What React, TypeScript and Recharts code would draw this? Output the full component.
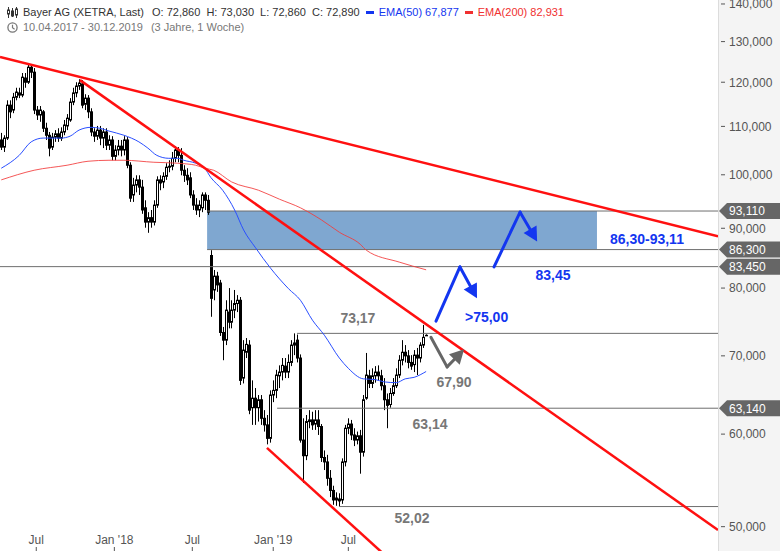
import React from "react";
import {
  ComposedChart,
  Bar,
  Line,
  XAxis,
  YAxis,
  ReferenceLine,
  ReferenceArea,
  ReferenceDot,
} from "recharts";

// Bayer AG weekly candles, 10.04.2017 - 30.12.2019 (week index 0..142)
const OPEN = [
  107.1, 105.6, 107.5, 114.7, 113.6, 116.5, 117.5, 117.0, 121.0, 120.0,
  123.6, 122.4, 113.6, 112.5, 113.2, 109.6, 108.1, 105.6, 107.7, 108.4,
  107.5, 108.8, 110.1, 111.4, 115.4, 117.5, 119.1, 119.6, 114.9, 116.3,
  113.2, 108.8, 107.9, 109.2, 107.5, 108.8, 106.0, 107.1, 103.7, 105.0,
  105.8, 105.0, 107.1, 101.9, 96.1, 98.0, 99.0, 97.6, 93.7, 91.1,
  91.9, 91.1, 94.2, 99.0, 98.6, 99.7, 101.5, 101.7, 103.3, 105.0,
  103.9, 100.9, 99.9, 99.4, 96.1, 94.2, 93.3, 93.7, 96.1, 95.1,
  85.3, 79.7, 81.9, 80.8, 73.3, 72.2, 76.3, 74.8, 76.6, 77.6,
  78.1, 67.0, 70.5, 71.5, 63.2, 64.4, 63.2, 64.2, 61.9, 61.1,
  59.5, 64.8, 65.4, 67.3, 67.8, 68.6, 67.8, 69.1, 71.5, 72.2,
  69.7, 59.3, 57.5, 61.5, 61.7, 61.2, 61.7, 60.9, 57.3, 56.8,
  55.0, 53.7, 52.7, 52.8, 52.7, 56.8, 60.7, 61.2, 59.9, 59.3,
  59.8, 57.9, 64.4, 67.3, 66.3, 67.3, 67.8, 67.3, 66.0, 64.2,
  63.6, 65.0, 66.0, 67.4, 69.4, 70.5, 70.0, 69.1, 68.8, 70.1,
  69.7, 71.5, 72.86,
];
const HIGH = [
  108.6, 108.1, 115.8, 115.8, 117.5, 118.7, 118.7, 122.2, 122.2, 124.3,
  124.3, 123.4, 114.5, 114.5, 113.6, 110.8, 108.8, 108.6, 109.2, 109.6,
  109.8, 111.4, 112.7, 116.3, 118.7, 120.0, 120.7, 120.5, 117.2, 117.0,
  114.0, 109.6, 110.1, 110.1, 109.6, 109.6, 108.1, 107.9, 106.0, 107.1,
  107.1, 107.9, 107.7, 102.5, 99.4, 99.9, 99.9, 99.0, 95.1, 92.9,
  93.3, 95.1, 99.7, 99.9, 100.5, 102.3, 102.9, 104.6, 105.8, 105.6,
  105.4, 101.9, 101.3, 100.5, 97.0, 95.5, 95.1, 96.6, 96.6, 96.1,
  86.2, 82.9, 82.6, 81.3, 74.1, 78.1, 80.0, 78.1, 79.7, 78.9,
  78.6, 72.2, 72.5, 72.2, 66.7, 65.7, 64.8, 64.8, 62.9, 62.3,
  65.4, 66.7, 68.1, 68.7, 69.7, 69.7, 70.2, 72.2, 73.17, 73.0,
  70.2, 61.9, 62.3, 62.9, 62.7, 62.9, 62.9, 61.2, 58.1, 57.6,
  55.9, 54.2, 53.5, 53.4, 57.2, 61.1, 61.9, 61.7, 60.7, 60.3,
  60.5, 64.8, 70.4, 68.1, 68.3, 68.6, 68.7, 68.1, 67.0, 65.0,
  65.7, 67.0, 68.3, 70.1, 72.2, 71.5, 70.8, 70.1, 70.8, 71.1,
  71.9, 74.4, 73.03,
];
const LOW = [
  105.0, 104.6, 107.1, 111.8, 112.9, 115.8, 116.3, 116.5, 118.7, 119.6,
  121.0, 112.7, 111.4, 111.0, 108.8, 107.1, 103.7, 105.0, 106.7, 106.7,
  106.9, 108.1, 109.2, 111.0, 114.7, 116.5, 118.2, 114.0, 113.6, 111.8,
  107.9, 106.7, 107.1, 106.0, 105.4, 105.0, 105.0, 102.9, 102.9, 103.9,
  103.7, 103.9, 101.3, 94.8, 94.8, 96.6, 96.1, 92.6, 90.1, 89.2,
  90.1, 90.5, 93.7, 97.0, 97.4, 99.0, 100.5, 100.9, 102.5, 102.5,
  99.9, 98.6, 98.0, 95.5, 93.3, 92.4, 92.0, 92.9, 93.3, 92.4,
  75.6, 78.1, 79.4, 72.8, 69.4, 71.5, 73.9, 73.9, 75.4, 76.3,
  66.1, 66.3, 69.7, 62.4, 61.1, 61.1, 61.5, 61.1, 60.3, 58.8,
  59.0, 63.9, 64.4, 65.7, 66.7, 67.0, 67.0, 68.6, 70.1, 69.1,
  59.0, 54.5, 57.0, 60.7, 60.5, 60.5, 59.9, 56.8, 55.9, 54.2,
  53.0, 52.2, 52.1, 52.02, 52.3, 56.3, 60.0, 59.3, 58.6, 58.8,
  55.5, 57.4, 64.2, 65.7, 65.7, 66.4, 66.7, 65.4, 62.9, 60.7,
  63.2, 64.7, 65.7, 67.0, 68.7, 69.1, 68.3, 68.1, 67.8, 67.4,
  69.1, 71.1, 72.86,
];
const CLOSE = [
  105.6, 107.5, 114.7, 113.2, 116.5, 117.7, 117.0, 121.2, 120.0, 123.6,
  122.4, 113.6, 112.5, 113.6, 109.6, 108.1, 105.4, 107.7, 108.4, 107.5,
  108.8, 110.3, 111.8, 115.4, 117.5, 119.1, 119.8, 114.7, 116.3, 113.2,
  108.8, 107.9, 109.2, 107.5, 108.8, 106.0, 107.1, 103.7, 105.0, 105.8,
  105.0, 107.1, 101.9, 95.5, 98.0, 99.0, 97.6, 93.3, 91.1, 91.9,
  91.1, 94.2, 99.0, 98.4, 99.7, 101.5, 101.7, 103.3, 105.0, 103.9,
  100.9, 99.9, 99.0, 96.1, 94.2, 93.3, 94.2, 96.1, 95.1, 92.9,
  78.4, 81.9, 80.5, 73.3, 72.2, 76.6, 74.8, 76.6, 77.6, 78.1,
  66.7, 70.8, 71.6, 62.9, 64.4, 63.2, 64.2, 61.9, 61.1, 59.5,
  64.8, 65.4, 67.4, 67.8, 68.7, 67.8, 69.1, 71.5, 71.8, 69.7,
  59.3, 57.5, 61.5, 61.7, 61.1, 61.7, 60.9, 57.3, 56.8, 55.0,
  53.7, 52.7, 52.9, 52.6, 56.8, 60.7, 61.2, 59.9, 59.3, 59.8,
  57.9, 64.2, 67.4, 66.3, 67.3, 67.8, 67.3, 66.0, 64.2, 63.5,
  65.0, 66.0, 67.4, 69.4, 70.5, 70.0, 69.1, 68.6, 70.1, 69.7,
  71.5, 72.6, 72.89,
];

// moving averages (week index -> value)
const EMA50_WEEKS = [0, 6, 10, 14, 20, 23, 26, 30, 33, 36, 41, 46, 49, 52, 56, 59, 61, 65, 68, 70, 74, 78, 81, 85, 90, 96, 100, 104, 108, 113, 116, 121, 125, 128, 132, 135, 138, 142];
const EMA50_VALUES = [101.3, 103.9, 106.7, 107.5, 107.5, 107.9, 109.2, 109.8, 109.6, 109.0, 108.1, 106.7, 105.4, 103.9, 103.3, 103.3, 102.9, 102.3, 101.3, 99.5, 97.0, 93.3, 89.7, 86.6, 83.2, 79.9, 78.1, 75.1, 72.9, 69.7, 68.3, 66.9, 66.8, 66.5, 66.4, 66.9, 67.1, 67.877];
const EMA200_WEEKS = [0, 11, 22, 29, 36, 41, 51, 59, 65, 68, 71, 77, 86, 93, 100, 107, 113, 120, 122, 133, 142];
const EMA200_VALUES = [99.0, 100.9, 101.9, 102.7, 102.9, 102.9, 102.5, 102.3, 101.9, 101.3, 100.9, 98.6, 97.0, 95.3, 93.7, 91.5, 89.3, 87.2, 86.2, 84.2, 82.931];

// axis
const X_DOMAIN = [-0.42, 239.55];
const X_TICKS = [11.7, 37.8, 63.85, 90.9, 116.0];
const X_TICK_LABELS = ["Jul", "Jan '18", "Jul", "Jan '19", "Jul"];
const Y_DOMAIN = [47.66, 141.1];
const Y_TICKS = [50, 60, 70, 80, 90, 100, 110, 120, 130, 140];

// drawn analysis
const TAG_LEVELS = [93.11, 86.3, 83.45, 63.14];
const LEVELS = [93.11, 86.3, 83.45, 73.17, 63.14, 52.02];
const LEVEL_FROM = [68.8, 68.8, -0.42, 98.85, 92.2, 113.2];
const TRENDLINES = [
  [[-0.42, 126.1], [239.55, 88.6]],
  [[26.3, 120.5], [239.55, 49.67]],
  [[88.8, 58.4], [133.3, 46.0]],
];
const ZONE = { from: 68.8, to: 199.1, low: 86.3, high: 93.11 };
const NOTE_TEXTS = ["73,17", "63,14", "52,02", "67,90", ">75,00", "83,45", "86,30-93,11"];
const NOTE_W = [119.2, 143.3, 137.3, 151.3, 162.2, 184.4, 215.8];
const NOTE_V = [75.4, 61.2, 50.9, 66.5, 75.5, 82.1, 88.1];
const NOTE_BLUE = [false, false, false, false, true, true, true];
const ARROWS = [
  { blue: true, pts: [[145.3, 74.95], [153.3, 83.4], [159.0, 78.4]] },
  { blue: true, pts: [[164.7, 83.4], [173.4, 92.9], [179.1, 87.7]] },
  { blue: false, pts: [[143.6, 72.6], [149.0, 68.5], [154.7, 70.9]] },
];

const BLUE = "#1336f0";
const GREY = "#6e6e6e";
const RED = "#ff1010";
const PLOT_RIGHT = 718;

const data = OPEN.map((o, i) => {
  const a = EMA50_WEEKS.indexOf(i);
  const b = EMA200_WEEKS.indexOf(i);
  return {
    w: i,
    o,
    h: HIGH[i],
    l: LOW[i],
    c: CLOSE[i],
    ema50: a >= 0 ? EMA50_VALUES[a] : null,
    ema200: b >= 0 ? EMA200_VALUES[b] : null,
  };
});

const fmt3 = (v: number) => v.toFixed(3).replace(".", ",");

function Candle(props: any) {
  const { x, y, width, height, payload } = props;
  if (x == null || y == null || !payload) return null;
  const top = Math.min(y, y + height);
  const bottom = Math.max(y, y + height);
  const p = Math.round(x + width / 2);
  const lh = Math.log(payload.h);
  const ll = Math.log(payload.l);
  const span = lh - ll || 1;
  const toY = (v: number) => top + ((lh - Math.log(v)) / span) * (bottom - top);
  const yo = toY(payload.o);
  const yc = toY(payload.c);
  const up = payload.c >= payload.o;
  const bt = Math.min(yo, yc);
  const bh = Math.max(Math.abs(yc - yo), 0.5);
  return (
    <g>
      <line x1={p + 0.5} x2={p + 0.5} y1={top} y2={bottom} stroke="#000" strokeWidth={1} />
      <rect
        x={p - 0.5}
        y={bt}
        width={2}
        height={bh}
        fill={up ? "#fff" : "#000"}
        stroke="#000"
        strokeWidth={1}
      />
    </g>
  );
}

function YTick(props: any) {
  const { y, payload } = props;
  const v = payload.value;
  if (TAG_LEVELS.includes(v)) {
    return (
      <g>
        <polygon
          points={`${PLOT_RIGHT + 1},${y} ${PLOT_RIGHT + 9},${y - 8} 780,${y - 8} 780,${y + 8} ${PLOT_RIGHT + 9},${y + 8}`}
          fill="#666"
        />
        <text x={PLOT_RIGHT + 11} y={y} dy="0.36em" fill="#fff" fontSize={12}>
          {fmt3(v)}
        </text>
      </g>
    );
  }
  return (
    <g>
      <line x1={PLOT_RIGHT + 3} x2={PLOT_RIGHT + 7} y1={y} y2={y} stroke="#555" />
      <text x={PLOT_RIGHT + 11} y={y} dy="0.36em" fill="#555" fontSize={12}>
        {fmt3(v)}
      </text>
    </g>
  );
}

function XTick(props: any) {
  const { x, payload } = props;
  const i = X_TICKS.indexOf(payload.value);
  return (
    <g>
      <text x={x} y={544} textAnchor="middle" fill="#555" fontSize={12}>
        {X_TICK_LABELS[i]}
      </text>
      <line x1={x} x2={x} y1={547} y2={551} stroke="#555" />
    </g>
  );
}

const arrowShape = (color: string, head: boolean) => (p: any) => {
  const { x1, y1, x2, y2 } = p;
  if (!head) {
    return <line x1={x1} y1={y1} x2={x2} y2={y2} stroke={color} strokeWidth={3} strokeLinecap="round" />;
  }
  const dx = x2 - x1;
  const dy = y2 - y1;
  const len = Math.hypot(dx, dy) || 1;
  const ux = dx / len;
  const uy = dy / len;
  const hl = 14;
  const hw = 7.5;
  const bx = x2 - ux * hl;
  const by = y2 - uy * hl;
  return (
    <g>
      <line x1={x1} y1={y1} x2={bx + ux * 2} y2={by + uy * 2} stroke={color} strokeWidth={3} strokeLinecap="round" />
      <polygon
        points={`${x2},${y2} ${bx - uy * hw},${by + ux * hw} ${bx + uy * hw},${by - ux * hw}`}
        fill={color}
      />
    </g>
  );
};

function Header() {
  const row: React.CSSProperties = {
    position: "absolute",
    left: 7,
    display: "flex",
    alignItems: "center",
    whiteSpace: "nowrap",
    fontSize: 11,
  };
  return (
    <>
      <div style={{ ...row, top: 6, color: "#333", gap: 6 }}>
        <svg width="11" height="11" viewBox="0 0 11 11">
          <line x1="1.5" y1="0" x2="1.5" y2="11" stroke="#333" />
          <rect x="0.5" y="3" width="2" height="4" fill="#fff" stroke="#333" />
          <line x1="5.5" y1="1" x2="5.5" y2="10" stroke="#333" />
          <rect x="4.5" y="4" width="2" height="5" fill="#333" stroke="#333" />
          <line x1="9.5" y1="0" x2="9.5" y2="11" stroke="#333" />
          <rect x="8.5" y="2" width="2" height="6" fill="#fff" stroke="#333" />
        </svg>
        <span style={{ marginLeft: -1 }}>Bayer AG (XETRA, Last)</span>
        <span style={{ marginLeft: 2 }}>O: 72,860</span>
        <span>H: 73,030</span>
        <span>L: 72,860</span>
        <span>C: 72,890</span>
        <span style={{ color: BLUE, display: "flex", alignItems: "center", gap: 5 }}>
          <span style={{ width: 8, height: 3, background: BLUE, display: "inline-block" }} />
          EMA(50) 67,877
        </span>
        <span style={{ color: "#f03030", display: "flex", alignItems: "center", gap: 5 }}>
          <span style={{ width: 8, height: 3, background: "#f03030", display: "inline-block" }} />
          EMA(200) 82,931
        </span>
      </div>
      <div style={{ ...row, top: 21, color: "#777", gap: 8 }}>
        <svg width="11" height="11" viewBox="0 0 11 11">
          <circle cx="5.5" cy="5.5" r="4.6" fill="none" stroke="#777" strokeWidth="1.3" />
          <polyline points="5.5,2.8 5.5,5.8 7.6,7.3" fill="none" stroke="#777" strokeWidth="1.2" />
        </svg>
        <span style={{ marginLeft: -3 }}>10.04.2017 - 30.12.2019</span>
        <span>(3 Jahre, 1 Woche)</span>
      </div>
    </>
  );
}

export default function App() {
  return (
    <div
      style={{
        position: "relative",
        width: 780,
        height: 551,
        fontFamily: "'Liberation Sans', Arial, sans-serif",
        background: "linear-gradient(to right, #fff 718px, #dcdcdc 718px, #dcdcdc 719px, #f4f4f4 719px)",
      }}
    >
      <style>{"body{margin:0}"}</style>
      <ComposedChart
        width={780}
        height={551}
        data={data}
        margin={{ top: 0, right: 0, bottom: -12, left: 0 }}
        style={{ fontFamily: "'Liberation Sans', Arial, sans-serif" }}
      >
        <XAxis
          dataKey="w"
          type="number"
          domain={X_DOMAIN}
          allowDataOverflow
          ticks={X_TICKS}
          interval={0}
          height={12}
          axisLine={false}
          tickLine={false}
          tick={<XTick />}
        />
        <YAxis
          orientation="right"
          scale="log"
          domain={Y_DOMAIN}
          allowDataOverflow
          ticks={[...Y_TICKS, ...TAG_LEVELS]}
          interval={0}
          width={62}
          axisLine={false}
          tickLine={false}
          tick={<YTick />}
        />
        <ReferenceArea
          x1={ZONE.from}
          x2={ZONE.to}
          y1={ZONE.low}
          y2={ZONE.high}
          fill="#7fa7d0"
          fillOpacity={1}
          stroke="none"
          ifOverflow="hidden"
        />
        {LEVELS.map((v, i) => (
          <ReferenceLine
            key={`lv${i}`}
            segment={[
              { x: LEVEL_FROM[i], y: v },
              { x: X_DOMAIN[1], y: v },
            ]}
            stroke={GREY}
            strokeWidth={1}
            ifOverflow="hidden"
          />
        ))}
        <Bar
          dataKey={(d: any) => [d.l, d.h]}
          barSize={3}
          shape={<Candle />}
          isAnimationActive={false}
        />
        <Line
          dataKey="ema200"
          type="monotone"
          stroke="#f23a3a"
          strokeOpacity={0.85}
          strokeWidth={1}
          dot={false}
          activeDot={false}
          connectNulls
          isAnimationActive={false}
        />
        <Line
          dataKey="ema50"
          type="monotone"
          stroke="#2a4fff"
          strokeWidth={1}
          dot={false}
          activeDot={false}
          connectNulls
          isAnimationActive={false}
        />
        {TRENDLINES.map((t, i) => (
          <ReferenceLine
            key={`tl${i}`}
            segment={[
              { x: t[0][0], y: t[0][1] },
              { x: t[1][0], y: t[1][1] },
            ]}
            stroke={RED}
            strokeWidth={2.5}
            ifOverflow="hidden"
          />
        ))}
        {ARROWS.map((a, i) =>
          a.pts.slice(1).map((pt, j) => (
            <ReferenceLine
              key={`ar${i}-${j}`}
              segment={[
                { x: a.pts[j][0], y: a.pts[j][1] },
                { x: pt[0], y: pt[1] },
              ]}
              ifOverflow="visible"
              shape={arrowShape(a.blue ? BLUE : "#666", j === a.pts.length - 2)}
            />
          ))
        )}
        {NOTE_TEXTS.map((t, i) => (
          <ReferenceDot
            key={`nt${i}`}
            x={NOTE_W[i]}
            y={NOTE_V[i]}
            r={0}
            ifOverflow="visible"
            shape={(p: any) => (
              <text
                x={p.cx}
                y={p.cy}
                dy="0.36em"
                textAnchor="middle"
                fontSize={14}
                fontWeight="bold"
                fill={NOTE_BLUE[i] ? BLUE : "#777"}
              >
                {t}
              </text>
            )}
          />
        ))}
      </ComposedChart>
      <Header />
    </div>
  );
}
